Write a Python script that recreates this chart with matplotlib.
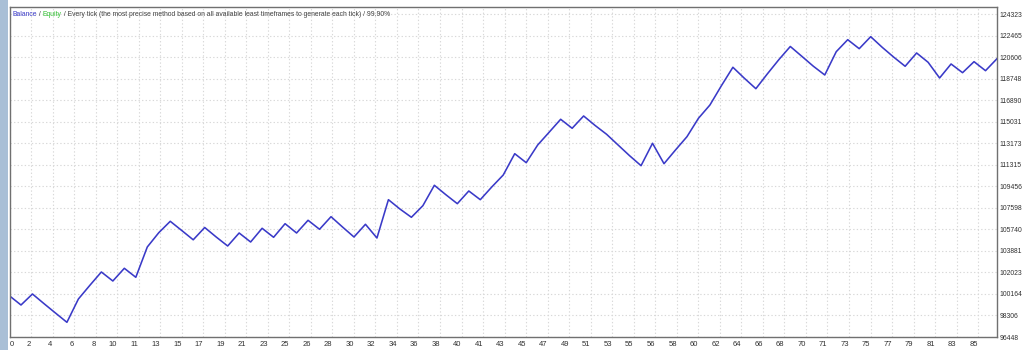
import numpy as np
import matplotlib
matplotlib.use("Agg")
import matplotlib.pyplot as plt
from matplotlib.patches import Rectangle

# balance after each trade
balance = [100000, 99210, 100160, 99331, 98520, 97717, 99728, 100911, 102059, 101282,
           102378, 101601, 104217, 105451, 106435, 105641, 104838, 105900, 105080, 104303,
           105425, 104648, 105831, 105054, 106228, 105425, 106522, 105745, 106832, 105943,
           105080, 106176, 104994, 108300, 107497, 106781, 107782, 109543, 108731, 107955,
           109051, 108300, 109396, 110432, 112270, 111494, 113021, 114126, 115240, 114463,
           115525, 114705, 113945, 113021, 112098, 111235, 113168, 111407, 112590, 113738,
           115326, 116474, 118140, 119729, 118779, 117881, 119159, 120385, 121524, 120678,
           119824, 119064, 121075, 122111, 121334, 122370, 121455, 120609, 119815, 120963,
           120160, 118805, 120013, 119262, 120212, 119435, 120471]
trades = np.arange(len(balance))

x_labels = ["0", "2", "4", "6", "8", "10", "11", "13", "15", "17", "19", "21", "23", "25",
            "26", "28", "30", "32", "34", "36", "38", "40", "41", "43", "45", "47", "49",
            "51", "53", "55", "56", "58", "60", "62", "64", "66", "68", "70", "71", "73",
            "75", "77", "79", "81", "83", "85"]
y_labels = ["96448", "98306", "100164", "102023", "103881", "105740", "107598", "109456",
            "111315", "113173", "115031", "116890", "118748", "120606", "122465", "124323"]

x_step = 1.8746      # grid spacing in trades
y_min, y_step = 96448, 1858.33

fig = plt.figure(figsize=(10.24, 3.5), dpi=100)
fig.patch.set_facecolor("white")
fig.patches.append(Rectangle((0, 0), 8 / 1024, 1, transform=fig.transFigure,
                             facecolor="#a9bfd6", edgecolor="none"))
ax = fig.add_axes([9.5 / 1024, 13 / 350, 987.5 / 1024, 330.5 / 350])

ax.plot(trades, balance, color="#3a3ac8", lw=1.15)

ax.set_xlim(0, len(balance) - 1)
ax.set_ylim(y_min, y_min + 330.5 * y_step / 21.53)

xt = np.arange(len(x_labels)) * x_step
ax.set_xticks(xt)
ax.set_xticklabels(x_labels, fontsize=5.5, family="Liberation Sans", color="#303030")
for i, t in enumerate(ax.get_xticklabels()):
    t.set_ha("left" if i == 0 else "right")
yt = y_min + np.arange(len(y_labels)) * y_step
ax.set_yticks(yt)
ax.set_yticklabels(y_labels, fontsize=4.9, family="Liberation Sans", color="#303030")
ax.yaxis.tick_right()
ax.tick_params(axis="x", length=0, pad=3)
ax.tick_params(axis="y", length=0, pad=2)

ax.grid(True, color="#d8d8d8", linestyle=(0, (1.2, 2)), linewidth=0.8)
for s in ax.spines.values():
    s.set_color("#707070")
    s.set_linewidth(1)

parts = [("Balance", "#3a3ac8"), (" / ", "#404040"), ("Equity", "#2fbf2f"),
         (" / Every tick (the most precise method based on all available least timeframes "
          "to generate each tick) / 99.90%", "#404040")]
prev = ax.text(3 / 987.5, 1 - 11 / 330.5, parts[0][0], transform=ax.transAxes,
               fontsize=4.9, family="Liberation Sans", color=parts[0][1], va="bottom")
for txt, col in parts[1:]:
    prev = ax.annotate(txt, xy=(1, 0), xycoords=prev, fontsize=4.9,
                       family="Liberation Sans", color=col, va="bottom")

fig.savefig("out.png", dpi=100)
